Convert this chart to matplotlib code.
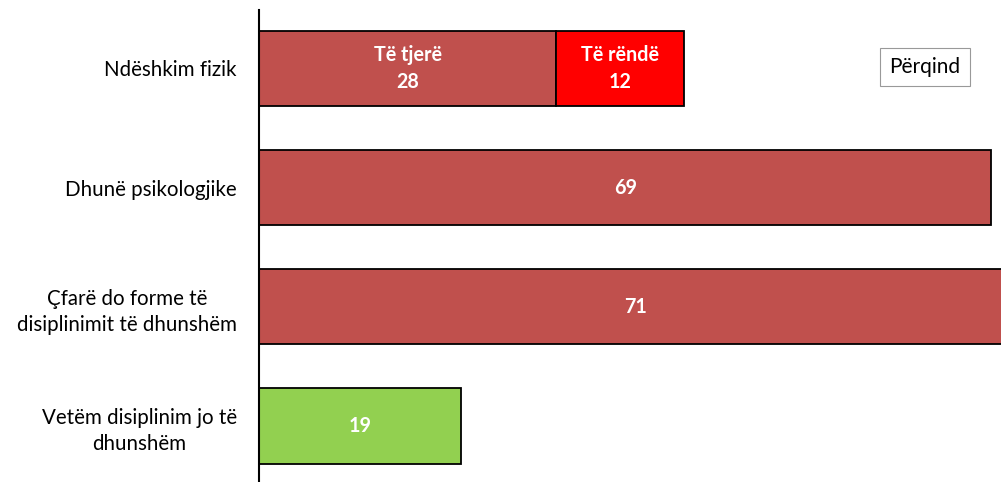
import numpy as np
import matplotlib.pyplot as plt

plt.rcParams['font.family'] = ['Lato', 'DejaVu Sans']

# data
categories = ['Ndëshkim fizik', 'Dhunë psikologjike',
              'Çfarë do forme të\ndisiplinimit të dhunshëm',
              'Vetëm disiplinim jo të\ndhunshëm']
other_vals = [28, 69, 71, 19]     # first (or only) segment
severe_vals = [12, 0, 0, 0]       # severe physical punishment
colors = ['#C0504D', '#C0504D', '#C0504D', '#92D050']
seg_names = ['Të tjerë', 'Të rëndë']

fig = plt.figure(figsize=(10.01, 4.82), dpi=100)
ax = fig.add_axes([259 / 1001, -6 / 482, 742 / 1001, 478 / 482])

y = np.arange(len(categories))
h = 0.63
ax.barh(y, other_vals, height=h, color=colors, edgecolor='black', linewidth=1.3)
ax.barh(y[0], severe_vals[0], left=other_vals[0], height=h, color='#FF0000',
        edgecolor='black', linewidth=1.3)

for i, v in enumerate(other_vals):
    txt = f'{seg_names[0]}\n{v}' if severe_vals[i] else f'{v}'
    ax.text(v / 2, i, txt, ha='center', va='center', color='white',
            fontsize=14.2, fontweight='bold', linespacing=1.45)
ax.text(other_vals[0] + severe_vals[0] / 2, 0, f'{seg_names[1]}\n{severe_vals[0]}',
        ha='center', va='center', color='white', fontsize=14.2, fontweight='bold',
        linespacing=1.45)

ax.set_xlim(0, 69.9)
ax.set_ylim(3.52, -0.49)
ax.set_yticks(y)
ax.set_yticklabels(categories, fontsize=14.8, ha='right', multialignment='center',
                   linespacing=1.4)
ax.tick_params(axis='y', length=0, pad=16)
ax.set_xticks([])
for s in ['top', 'right', 'bottom']:
    ax.spines[s].set_visible(False)
ax.spines['left'].set_linewidth(1.5)

fig.text(925 / 1001, 1 - 67 / 482, 'Përqind', ha='center', va='center', fontsize=15,
         bbox=dict(boxstyle='square,pad=0.45', facecolor='white', edgecolor='#999999', linewidth=0.8))

fig.savefig('out.png', dpi=100)
